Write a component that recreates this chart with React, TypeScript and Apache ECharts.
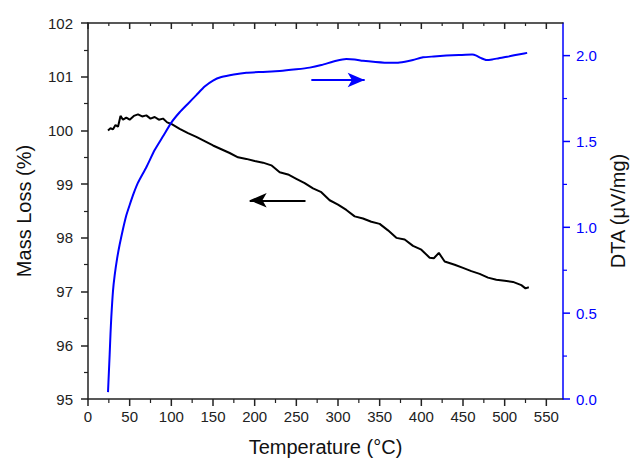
import React, { useEffect, useRef } from "react";
import * as echarts from "echarts";

// Mass loss (TG) curve
const tgTemps = [24, 27, 30, 33, 36, 39, 42, 46, 50, 55, 60, 65, 70, 75, 80, 85, 90, 95, 100, 110, 120, 130, 140, 150, 160, 170, 180, 190, 200, 210, 220, 230, 240, 250, 260, 270, 280, 290, 300, 310, 320, 330, 340, 350, 360, 370, 380, 390, 400, 410, 415, 421, 428, 440, 450, 460, 470, 480, 490, 500, 510, 520, 525, 529];
const tgMass = [100.0, 100.04, 100.02, 100.1, 100.07, 100.27, 100.2, 100.24, 100.2, 100.27, 100.3, 100.26, 100.28, 100.22, 100.25, 100.2, 100.22, 100.15, 100.12, 100.03, 99.95, 99.88, 99.8, 99.72, 99.65, 99.58, 99.5, 99.47, 99.43, 99.4, 99.35, 99.22, 99.18, 99.1, 99.02, 98.92, 98.85, 98.7, 98.62, 98.52, 98.4, 98.36, 98.3, 98.26, 98.14, 98.0, 97.97, 97.85, 97.78, 97.63, 97.62, 97.72, 97.56, 97.5, 97.44, 97.38, 97.33, 97.26, 97.22, 97.2, 97.18, 97.12, 97.06, 97.08];

// DTA curve
const dtaTemps = [24, 25, 26, 27, 28, 30, 32, 35, 38, 42, 46, 50, 55, 60, 70, 80, 90, 100, 110, 120, 130, 140, 150, 160, 175, 190, 210, 230, 250, 266, 280, 298, 310, 320, 330, 345, 362, 374, 390, 402, 415, 430, 445, 461, 466, 472, 478, 485, 493, 503, 513, 520, 527];
const dtaValues = [0.04, 0.15, 0.26, 0.38, 0.48, 0.63, 0.72, 0.82, 0.9, 0.99, 1.07, 1.13, 1.2, 1.26, 1.35, 1.45, 1.53, 1.61, 1.67, 1.72, 1.77, 1.82, 1.855, 1.875, 1.89, 1.9, 1.905, 1.91, 1.92, 1.93, 1.945, 1.97, 1.98, 1.978, 1.97, 1.963, 1.958, 1.96, 1.975, 1.99, 1.995, 2.0, 2.003, 2.006, 2.0, 1.985, 1.975, 1.978, 1.985, 1.993, 2.004, 2.01, 2.016];

// Tick values
const xMajorTicks = [0, 50, 100, 150, 200, 250, 300, 350, 400, 450, 500, 550];
const xMinorTicks = [25, 75, 125, 175, 225, 275, 325, 375, 425, 475, 525];
const dtaMajorTicks = [0, 0.5, 1.0, 1.5, 2.0];
const dtaMinorTicks = [0.25, 0.75, 1.25, 1.75];

// Axis extents
const tMin = 0;
const tMax = 570;
const massMin = 95;
const massMax = 102;
const dtaMax = 2.19;

// Arrows (data coordinates)
const tgArrow = { from: [261, 98.7], to: [194, 98.7] };
const dtaArrow = { from: [268, 1.858], to: [332, 1.858] };

const FONT = "Liberation Sans";
const BLUE = "#0000ff";
const INK = "#222";

export default function App() {
  const ref = useRef<HTMLDivElement>(null);
  useEffect(() => {
    if (!ref.current) return;
    const chart = echarts.init(ref.current, null, { renderer: "svg" });
    const inkLine = { show: true, onZero: false, lineStyle: { color: INK, width: 1.5 } };

    chart.setOption({
      animation: false,
      backgroundColor: "#fff",
      textStyle: { fontFamily: FONT },
      grid: { left: 88, right: 67, top: 23, bottom: 63, containLabel: false, outerBoundsMode: "none" },
      xAxis: [
        {
          type: "value",
          position: "bottom",
          min: tMin,
          max: tMax,
          splitLine: { show: false },
          name: "Temperature (°C)",
          nameLocation: "middle",
          nameGap: 38,
          nameTextStyle: { fontSize: 20, color: "#111", fontFamily: FONT },
          axisLine: inkLine,
          axisTick: { show: false },
          axisLabel: { customValues: xMajorTicks, fontSize: 15, color: INK, margin: 10, fontFamily: FONT },
        },
        {
          type: "value",
          position: "top",
          min: tMin,
          max: tMax,
          splitLine: { show: false },
          axisLine: inkLine,
          axisTick: { show: false },
          axisLabel: { show: false },
        },
      ],
      yAxis: [
        {
          type: "value",
          position: "left",
          min: massMin,
          max: massMax,
          interval: 1,
          name: "Mass Loss (%)",
          nameLocation: "middle",
          nameGap: 54,
          nameTextStyle: { fontSize: 20, color: "#111", fontFamily: FONT },
          splitLine: { show: false },
          axisLine: inkLine,
          axisTick: { show: true, length: 7, lineStyle: { color: INK, width: 1.5 } },
          minorTick: { show: true, splitNumber: 2, length: 4, lineStyle: { color: INK, width: 1.2 } },
          axisLabel: { fontSize: 15, color: INK, margin: 15, fontFamily: FONT },
        },
        {
          type: "value",
          position: "right",
          min: 0,
          max: dtaMax,
          name: "DTA (μV/mg)",
          nameLocation: "middle",
          nameGap: 44,
          nameRotate: 90,
          nameTextStyle: { fontSize: 20, color: "#111", fontFamily: FONT },
          splitLine: { show: false },
          axisLine: { show: true, onZero: false, lineStyle: { color: BLUE, width: 1.5 } },
          axisTick: { show: false },
          axisLabel: {
            customValues: dtaMajorTicks,
            fontSize: 15,
            color: BLUE,
            margin: 13,
            fontFamily: FONT,
            formatter: (v: number) => v.toFixed(1),
          },
        },
      ],
      series: [
        {
          type: "line",
          xAxisIndex: 0,
          yAxisIndex: 0,
          data: tgTemps.map((t, i) => [t, tgMass[i]]),
          showSymbol: false,
          lineStyle: { color: "#000", width: 2 },
          markLine: {
            silent: true,
            symbol: ["none", "arrow"],
            symbolSize: [11, 17],
            label: { show: false },
            lineStyle: { color: "#000", width: 2, type: "solid" },
            data: [[{ coord: tgArrow.from }, { coord: tgArrow.to }]],
          },
        },
        {
          type: "line",
          xAxisIndex: 0,
          yAxisIndex: 1,
          data: dtaTemps.map((t, i) => [t, dtaValues[i]]),
          showSymbol: false,
          smooth: 0.2,
          lineStyle: { color: BLUE, width: 2 },
          markLine: {
            silent: true,
            symbol: ["none", "arrow"],
            symbolSize: [11, 17],
            label: { show: false },
            lineStyle: { color: BLUE, width: 2, type: "solid" },
            data: [[{ coord: dtaArrow.from }, { coord: dtaArrow.to }]],
          },
        },
      ],
    });

    // Tick marks placed through the chart's own scales (convertToPixel)
    const massFinder = { xAxisIndex: 0, yAxisIndex: 0 };
    const dtaFinder = { xAxisIndex: 0, yAxisIndex: 1 };
    const ticks: any[] = [];
    const addTick = (x1: number, y1: number, x2: number, y2: number, color: string, w: number) =>
      ticks.push({
        type: "line",
        silent: true,
        z: 50,
        shape: { x1, y1, x2, y2 },
        style: { stroke: color, lineWidth: w },
      });
    const xTicks = (values: number[], outLen: number, inLen: number, w: number) => {
      values.forEach((t) => {
        const [px, pyB] = chart.convertToPixel(massFinder, [t, massMin]) as number[];
        const [, pyT] = chart.convertToPixel(massFinder, [t, massMax]) as number[];
        addTick(px, pyB, px, pyB + outLen, INK, w); // bottom, outward
        addTick(px, pyT, px, pyT + inLen, INK, w); // top, inward
      });
    };
    xTicks(xMajorTicks, 7, 6, 1.5);
    xTicks(xMinorTicks, 4, 3, 1.2);
    const yTicks = (values: number[], len: number, w: number) => {
      values.forEach((v) => {
        const [px, py] = chart.convertToPixel(dtaFinder, [tMax, v]) as number[];
        addTick(px, py, px + len, py, BLUE, w);
      });
    };
    yTicks(dtaMajorTicks, 7, 1.5);
    yTicks(dtaMinorTicks, 4, 1.2);
    chart.setOption({ graphic: ticks });

    return () => chart.dispose();
  }, []);
  return (
    <div
      ref={ref}
      style={{ position: "fixed", left: 0, top: 0, width: 630, height: 462, background: "#fff" }}
    />
  );
}
